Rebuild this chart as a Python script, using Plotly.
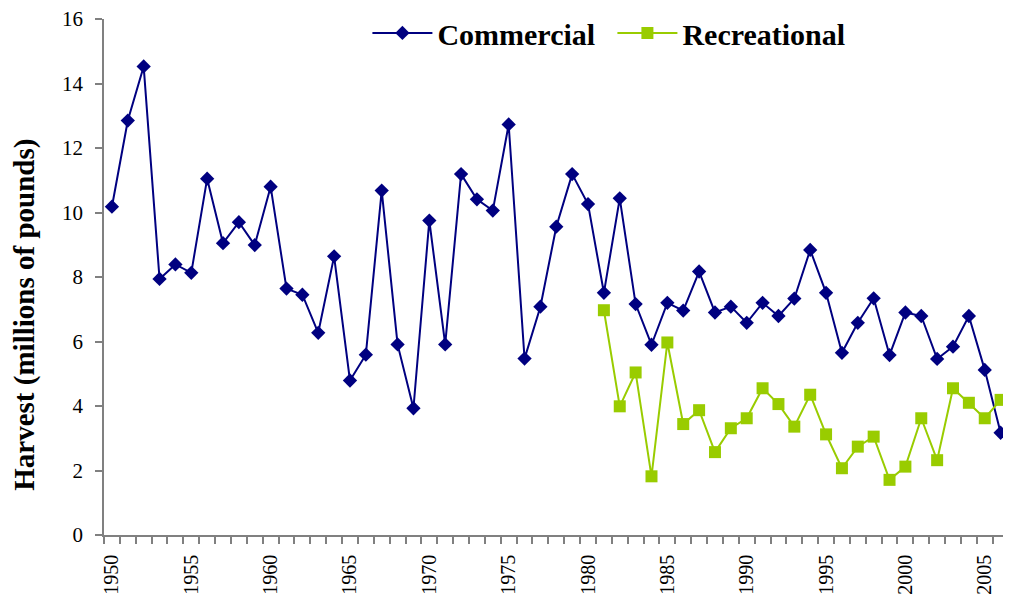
import plotly.graph_objects as go

years = list(range(1950, 2007))
commercial = [10.18, 12.85, 14.53, 7.94, 8.39, 8.13, 11.05, 9.05, 9.70, 8.99,
              10.80, 7.64, 7.45, 6.27, 8.64, 4.79, 5.59, 10.68, 5.91, 3.93,
              9.75, 5.91, 11.19, 10.41, 10.06, 12.73, 5.47, 7.08, 9.56, 11.19,
              10.26, 7.51, 10.44, 7.16, 5.90, 7.20, 6.96, 8.17, 6.90, 7.08,
              6.58, 7.20, 6.79, 7.33, 8.84, 7.51, 5.65, 6.58, 7.34, 5.58,
              6.90, 6.79, 5.46, 5.84, 6.79, 5.12, 3.17]
rec_years = list(range(1981, 2007))
recreational = [6.97, 3.99, 5.04, 1.82, 5.97, 3.44, 3.87, 2.57, 3.31, 3.62,
                4.55, 4.06, 3.36, 4.35, 3.12, 2.07, 2.74, 3.05, 1.71, 2.12,
                3.62, 2.32, 4.55, 4.10, 3.62, 4.19]
x_tick_years = list(range(1950, 2006, 5))
y_ticks = list(range(0, 17, 2))

FONT = "Liberation Serif"
AXIS_COLOR = "#808080"

fig = go.Figure()
fig.add_trace(go.Scatter(
    x=years, y=commercial, name="Commercial", mode="lines+markers",
    line=dict(color="#000080", width=2),
    marker=dict(symbol="diamond", size=11, color="#000080"),
    cliponaxis=False,
))
fig.add_trace(go.Scatter(
    x=rec_years, y=recreational, name="Recreational", mode="lines+markers",
    line=dict(color="#99CC00", width=2),
    marker=dict(symbol="square", size=12, color="#99CC00"),
    cliponaxis=False,
))

fig.update_layout(
    width=995, height=589,
    margin=dict(l=96, r=0, t=11, b=62, autoexpand=False),
    paper_bgcolor="white", plot_bgcolor="white",
    font=dict(family=FONT, color="black"),
    showlegend=True,
    legend=dict(
        orientation="h", x=0.293, xanchor="left", y=0.973, yanchor="middle",
        font=dict(family=FONT, size=30, color="black", weight="bold"),
        bgcolor="rgba(0,0,0,0)", itemwidth=60,
        entrywidth=170, entrywidthmode="pixels",
    ),
    xaxis=dict(
        range=[1949.5, 2006.15], showgrid=False, zeroline=False,
        showline=True, linecolor=AXIS_COLOR, linewidth=1.5,
        tickmode="array", tickvals=x_tick_years,
        ticktext=[str(v) for v in x_tick_years],
        ticks="", tickangle=-90, ticklabelstandoff=10, automargin=False,
        ticklabeloverflow="allow",
        tickfont=dict(family=FONT, size=20, color="black"),
        minor=dict(tick0=1949.5, dtick=1, ticks="outside", ticklen=7,
                   tickcolor=AXIS_COLOR, tickwidth=1.5, showgrid=False),
    ),
    yaxis=dict(
        range=[0, 16], showgrid=False, zeroline=False,
        showline=True, linecolor=AXIS_COLOR, linewidth=1.5,
        tickmode="array", tickvals=y_ticks, automargin=False,
        ticklabeloverflow="allow",
        ticks="outside", ticklen=7, tickcolor=AXIS_COLOR, tickwidth=1.5,
        ticklabelstandoff=8,
        tickfont=dict(family=FONT, size=21, color="black"),
    ),
    annotations=[dict(
        text="<b>Harvest (millions of pounds)</b>", textangle=-90,
        xref="paper", yref="paper", x=-0.0884, y=0.426,
        xanchor="center", yanchor="middle", showarrow=False,
        font=dict(family=FONT, size=29, color="black"),
    )],
)

fig.write_html("out.html")
